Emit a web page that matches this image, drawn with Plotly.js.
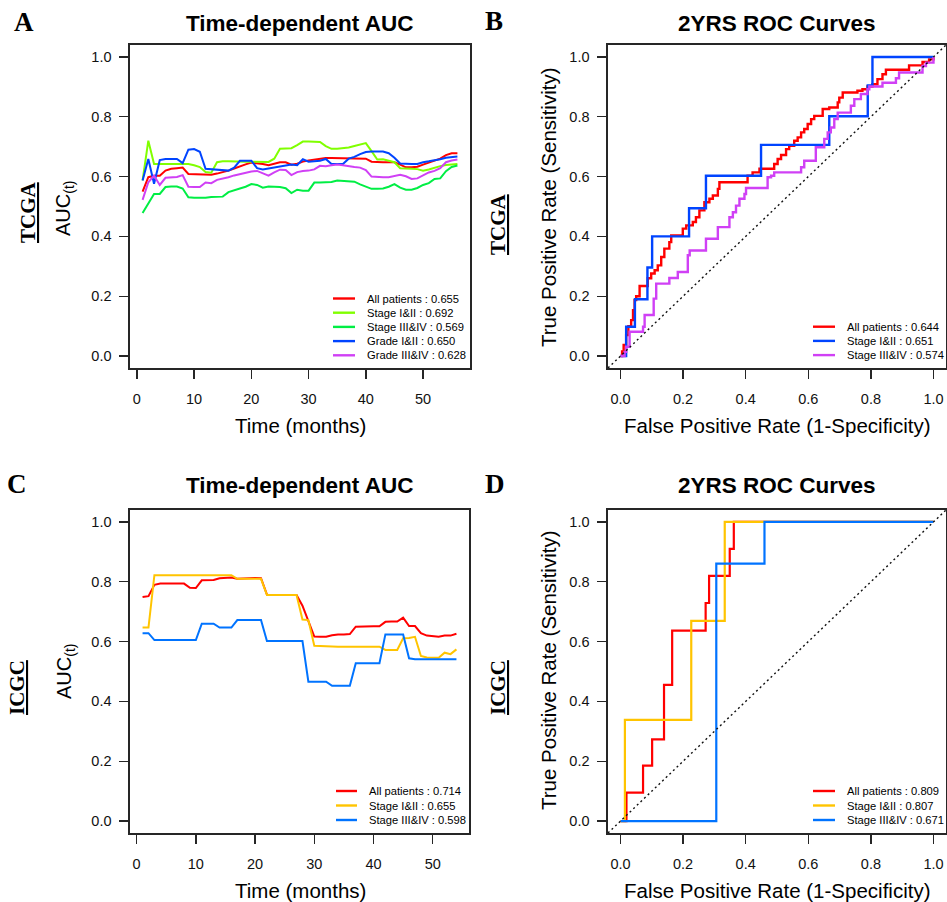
<!DOCTYPE html>
<html>
<head>
<meta charset="utf-8">
<script src="https://cdn.plot.ly/plotly-3.0.1.min.js"></script>
<style>
html,body{margin:0;padding:0;background:#ffffff;}
#chart{width:947px;height:902px;}
</style>
</head>
<body>
<div id="chart"></div>
<script>
// ---------------- DATA ----------------
// Panel A: TCGA time-dependent AUC (months 1..56)
const monthsTCGA = [1,2,3,4,5,6,7,8,9,10,11,12,13,14,15,16,17,18,19,20,21,22,23,24,25,26,27,28,29,30,31,32,33,34,35,36,37,38,39,40,41,42,43,44,45,46,47,48,49,50,51,52,53,54,55,56];
const aucTcgaAll  = [0.550,0.598,0.603,0.603,0.620,0.626,0.628,0.630,0.609,0.608,0.606,0.605,0.606,0.610,0.614,0.620,0.627,0.635,0.641,0.647,0.645,0.642,0.638,0.643,0.648,0.648,0.640,0.643,0.650,0.654,0.657,0.660,0.662,0.662,0.662,0.662,0.662,0.662,0.662,0.660,0.650,0.648,0.648,0.648,0.648,0.640,0.631,0.631,0.633,0.640,0.646,0.652,0.660,0.672,0.678,0.678];
const aucTcgaS12  = [0.587,0.720,0.642,0.642,0.644,0.644,0.644,0.643,0.642,0.638,0.632,0.615,0.613,0.648,0.651,0.651,0.650,0.650,0.650,0.650,0.649,0.648,0.649,0.660,0.693,0.694,0.695,0.705,0.717,0.717,0.717,0.716,0.702,0.693,0.693,0.694,0.697,0.702,0.708,0.712,0.685,0.657,0.658,0.654,0.648,0.628,0.626,0.626,0.625,0.620,0.624,0.630,0.635,0.639,0.641,0.642];
const aucTcgaS34  = [0.478,0.510,0.542,0.542,0.565,0.567,0.567,0.560,0.531,0.529,0.529,0.529,0.532,0.532,0.533,0.548,0.555,0.560,0.566,0.575,0.572,0.563,0.567,0.566,0.565,0.561,0.545,0.556,0.553,0.553,0.580,0.580,0.580,0.582,0.587,0.586,0.585,0.583,0.574,0.566,0.559,0.559,0.560,0.566,0.575,0.563,0.556,0.556,0.562,0.572,0.578,0.592,0.594,0.618,0.632,0.637];
const aucTcgaG12  = [0.587,0.659,0.576,0.655,0.659,0.659,0.659,0.645,0.690,0.692,0.683,0.626,0.624,0.624,0.621,0.620,0.630,0.653,0.653,0.653,0.628,0.624,0.627,0.630,0.634,0.638,0.640,0.638,0.658,0.650,0.652,0.653,0.659,0.642,0.642,0.642,0.660,0.666,0.675,0.682,0.684,0.684,0.684,0.678,0.663,0.644,0.642,0.642,0.642,0.648,0.651,0.654,0.658,0.663,0.665,0.667];
const aucTcgaG34  = [0.522,0.581,0.603,0.572,0.596,0.598,0.599,0.605,0.566,0.565,0.565,0.580,0.578,0.589,0.593,0.598,0.604,0.609,0.612,0.617,0.619,0.612,0.603,0.614,0.623,0.622,0.605,0.615,0.619,0.620,0.624,0.636,0.635,0.638,0.640,0.638,0.634,0.632,0.630,0.622,0.600,0.598,0.598,0.598,0.603,0.606,0.601,0.592,0.594,0.605,0.614,0.619,0.628,0.648,0.654,0.657];
const legendA = ["All patients : 0.655","Stage I&amp;II : 0.692","Stage III&amp;IV : 0.569","Grade I&amp;II : 0.650","Grade III&amp;IV : 0.628"];

// Panel B: TCGA 2-year ROC
const rocTcgaAllFpr = [0,0.005,0.010,0.018,0.025,0.034,0.040,0.045,0.050,0.061,0.087,0.098,0.109,0.119,0.130,0.140,0.156,0.162,0.199,0.210,0.231,0.241,0.252,0.268,0.284,0.295,0.311,0.316,0.406,0.422,0.444,0.491,0.502,0.513,0.529,0.539,0.555,0.566,0.577,0.587,0.598,0.609,0.619,0.646,0.667,0.694,0.699,0.710,0.757,0.773,0.789,0.805,0.821,0.837,0.848,0.922,0.965,0.986,1];
const rocTcgaAllTpr = [0,0.015,0.037,0.070,0.100,0.120,0.153,0.187,0.200,0.234,0.260,0.276,0.287,0.303,0.331,0.359,0.381,0.403,0.426,0.437,0.448,0.464,0.487,0.514,0.526,0.537,0.559,0.581,0.603,0.614,0.626,0.642,0.659,0.672,0.692,0.703,0.720,0.731,0.748,0.759,0.776,0.792,0.803,0.826,0.831,0.848,0.864,0.881,0.887,0.892,0.901,0.909,0.926,0.942,0.957,0.972,0.983,0.992,1];
const rocTcgaS12Fpr = [0,0.018,0.046,0.086,0.101,0.219,0.273,0.449,0.667,0.790,0.805,1];
const rocTcgaS12Tpr = [0,0.098,0.190,0.296,0.400,0.494,0.603,0.706,0.802,0.905,1,1];
const rocTcgaS34Fpr = [0,0.013,0.018,0.029,0.072,0.077,0.106,0.114,0.156,0.183,0.215,0.221,0.273,0.311,0.348,0.359,0.369,0.380,0.396,0.401,0.470,0.481,0.491,0.577,0.587,0.624,0.651,0.662,0.672,0.683,0.694,0.736,0.747,0.768,0.789,0.795,0.837,0.880,0.890,0.965,0.976,1];
const rocTcgaS34Tpr = [0,0.014,0.031,0.081,0.098,0.137,0.192,0.242,0.261,0.281,0.337,0.353,0.392,0.431,0.464,0.481,0.503,0.526,0.542,0.562,0.598,0.603,0.614,0.631,0.653,0.698,0.726,0.748,0.764,0.792,0.814,0.837,0.859,0.876,0.892,0.901,0.914,0.929,0.948,0.970,0.981,1];
const legendB = ["All patients : 0.644","Stage I&amp;II : 0.651","Stage III&amp;IV : 0.574"];

// Panel C: ICGC time-dependent AUC (months 1..54)
const monthsICGC = [1,2,3,4,5,6,7,8,9,10,11,12,13,14,15,16,17,18,19,20,21,22,23,24,25,26,27,28,29,30,31,32,33,34,35,36,37,38,39,40,41,42,43,44,45,46,47,48,49,50,51,52,53,54];
const aucIcgcAll = [0.749,0.752,0.790,0.794,0.794,0.794,0.794,0.794,0.780,0.779,0.805,0.806,0.806,0.812,0.813,0.814,0.810,0.811,0.813,0.813,0.812,0.757,0.756,0.756,0.756,0.756,0.756,0.720,0.669,0.617,0.616,0.616,0.621,0.624,0.624,0.625,0.650,0.651,0.651,0.651,0.651,0.666,0.667,0.667,0.680,0.652,0.652,0.628,0.620,0.618,0.616,0.620,0.620,0.626];
const aucIcgcS12 = [0.647,0.647,0.822,0.822,0.822,0.822,0.822,0.822,0.822,0.822,0.822,0.822,0.822,0.822,0.822,0.822,0.810,0.810,0.810,0.810,0.810,0.756,0.756,0.756,0.756,0.756,0.756,0.674,0.672,0.586,0.586,0.585,0.584,0.583,0.583,0.583,0.583,0.583,0.583,0.583,0.583,0.572,0.572,0.572,0.611,0.612,0.616,0.552,0.547,0.546,0.546,0.563,0.558,0.574];
const aucIcgcS34 = [0.628,0.628,0.605,0.605,0.605,0.605,0.605,0.605,0.605,0.605,0.660,0.660,0.660,0.647,0.647,0.647,0.672,0.672,0.672,0.672,0.672,0.602,0.602,0.602,0.602,0.602,0.602,0.602,0.466,0.466,0.466,0.466,0.452,0.452,0.452,0.452,0.528,0.528,0.528,0.528,0.528,0.624,0.624,0.624,0.624,0.544,0.541,0.541,0.541,0.541,0.541,0.541,0.541,0.541];
const legendC = ["All patients : 0.714","Stage I&amp;II : 0.655","Stage III&amp;IV : 0.598"];

// Panel D: ICGC 2-year ROC
const rocIcgcAllFpr = [0,0.019,0.072,0.101,0.139,0.165,0.272,0.283,0.349,0.362,1];
const rocIcgcAllTpr = [0,0.095,0.185,0.273,0.455,0.637,0.729,0.820,0.910,1,1];
const rocIcgcS12Fpr = [0,0.014,0.226,0.333,1];
const rocIcgcS12Tpr = [0,0.338,0.669,1,1];
const rocIcgcS34Fpr = [0,0.306,0.460,1];
const rocIcgcS34Tpr = [0,0.861,1,1];
const legendD = ["All patients : 0.809","Stage I&amp;II : 0.807","Stage III&amp;IV : 0.671"];

const diagonal = [-0.04, 1.04];

// ---------------- STYLE ----------------
const W = 947, H = 902;
const px = v => v / W;
const py = v => 1 - v / H;
const SANS = 'Liberation Sans, Arial, Helvetica, sans-serif';
const SERIF = 'Liberation Serif, Times New Roman, serif';

const colA = ['#FF0000', '#80FF00', '#00EE44', '#0044FF', '#D040F5'];
const colB = ['#FF0000', '#0044FF', '#D040F5'];
const colC = ['#FF0000', '#FFC400', '#0073FF'];

function line(x, y, color, xa, ya, width, shape) {
  return {x: x, y: y, type: 'scatter', mode: 'lines', xaxis: xa, yaxis: ya,
          line: {color: color, width: width, shape: shape || 'linear'},
          hoverinfo: 'skip', showlegend: false};
}

const traces = [
  line(monthsTCGA, aucTcgaAll, colA[0], 'x', 'y', 2),
  line(monthsTCGA, aucTcgaS12, colA[1], 'x', 'y', 2),
  line(monthsTCGA, aucTcgaS34, colA[2], 'x', 'y', 2),
  line(monthsTCGA, aucTcgaG12, colA[3], 'x', 'y', 2),
  line(monthsTCGA, aucTcgaG34, colA[4], 'x', 'y', 2),

  line(rocTcgaAllFpr, rocTcgaAllTpr, colB[0], 'x2', 'y2', 2.4, 'hv'),
  line(rocTcgaS12Fpr, rocTcgaS12Tpr, colB[1], 'x2', 'y2', 2.4, 'hv'),
  line(rocTcgaS34Fpr, rocTcgaS34Tpr, colB[2], 'x2', 'y2', 2.4, 'hv'),

  line(monthsICGC, aucIcgcAll, colC[0], 'x3', 'y3', 2),
  line(monthsICGC, aucIcgcS12, colC[1], 'x3', 'y3', 2),
  line(monthsICGC, aucIcgcS34, colC[2], 'x3', 'y3', 2),

  line(rocIcgcAllFpr, rocIcgcAllTpr, colC[0], 'x4', 'y4', 2.2, 'hv'),
  line(rocIcgcS12Fpr, rocIcgcS12Tpr, colC[1], 'x4', 'y4', 2.2, 'hv'),
  line(rocIcgcS34Fpr, rocIcgcS34Tpr, colC[2], 'x4', 'y4', 2.2, 'hv')
];
// dotted reference diagonals
['2', '4'].forEach(k => {
  const t = line(diagonal, diagonal, '#111111', 'x' + k, 'y' + k, 1.4);
  t.line.dash = '2px,3px';
  traces.push(t);
});

function axis(extra) {
  return Object.assign({
    showline: true, mirror: true, linecolor: '#262626', linewidth: 1.6,
    ticks: 'outside', ticklen: 9, tickwidth: 1.4, tickcolor: '#262626',
    showgrid: false, zeroline: false, fixedrange: true,
    tickfont: {family: SANS, size: 14.5, color: '#111111'}
  }, extra);
}
const xAx = extra => axis(Object.assign({ticklabelstandoff: 8}, extra));
const yAx = extra => axis(Object.assign({ticklabelstandoff: 5, tick0: 0, dtick: 0.2, tickformat: '.1f', range: [-0.04, 1.04]}, extra));

const yTop = [py(368), py(45)], yBot = [py(833), py(510)];
const xLeftA = [px(130), px(470)], xLeftC = [px(130), px(469)], xRight = [px(608), px(946)];

const annotations = [];
const shapes = [];
function text(t, x, y, size, opts) {
  annotations.push(Object.assign({
    text: t, x: px(x), y: py(y), xref: 'paper', yref: 'paper', showarrow: false,
    xanchor: 'center', yanchor: 'middle', font: {family: SANS, size: size, color: '#000000'}
  }, opts || {}));
}

// panel titles
text('<b>Time-dependent AUC</b>', 300, 23, 22.5);
text('<b>2YRS ROC Curves</b>', 777, 23, 22.5);
text('<b>Time-dependent AUC</b>', 300, 485, 22.5);
text('<b>2YRS ROC Curves</b>', 777, 485, 22.5);
// panel letters
[['A', 24, 22], ['B', 494, 21], ['C', 17, 484], ['D', 495, 484]].forEach(p =>
  text('<b>' + p[0] + '</b>', p[1], p[2], 27, {font: {family: SERIF, size: 27, color: '#000'}}));
// cohort labels
[['TCGA', 28, 212], ['TCGA', 498, 224], ['ICGC', 17, 688], ['ICGC', 498, 688]].forEach(p =>
  text('<b><u>' + p[0] + '</u></b>', p[1], p[2], 21, {textangle: -90, font: {family: SERIF, size: 21, color: '#000'}}));
// axis titles
text('AUC<sub>(t)</sub>', 65, 209, 20, {textangle: -90});
text('AUC<sub>(t)</sub>', 65, 672, 20, {textangle: -90});
text('True Positive Rate (Sensitivity)', 548, 207, 20.5, {textangle: -90});
text('True Positive Rate (Sensitivity)', 548, 670, 20.5, {textangle: -90});
text('Time (months)', 300, 425, 20.5);
text('Time (months)', 300, 890, 20.5);
text('False Positive Rate (1-Specificity)', 777, 425, 20.5);
text('False Positive Rate (1-Specificity)', 777, 890, 20.5);

// legends
function legend(labels, colors, x0, x1, xt, rows) {
  labels.forEach((lab, i) => {
    shapes.push({type: 'line', xref: 'paper', yref: 'paper', x0: px(x0), x1: px(x1),
                 y0: py(rows[i]), y1: py(rows[i]), line: {color: colors[i], width: 2.4}});
    text(lab, xt, rows[i], 11.2, {xanchor: 'left'});
  });
}
legend(legendA, colA, 333, 355, 365, [298.5, 312.7, 326.9, 341.1, 355.3]);
legend(legendB, colB, 813, 835, 845, [326.7, 340.9, 355.1]);
legend(legendC, colC, 336, 357, 367, [791, 805.5, 820]);
legend(legendD, colC, 813, 835, 845, [791, 805.5, 820]);

const layout = {
  width: W, height: H, margin: {l: 0, r: 0, t: 0, b: 0},
  paper_bgcolor: '#ffffff', plot_bgcolor: '#ffffff', showlegend: false,
  xaxis:  xAx({domain: xLeftA, range: [-1.2, 58.2], tick0: 0, dtick: 10, anchor: 'y'}),
  yaxis:  yAx({domain: yTop, anchor: 'x'}),
  xaxis2: xAx({domain: xRight, range: [-0.04, 1.04], tick0: 0, dtick: 0.2, tickformat: '.1f', anchor: 'y2'}),
  yaxis2: yAx({domain: yTop, anchor: 'x2'}),
  xaxis3: xAx({domain: xLeftC, range: [-1.12, 56.12], tick0: 0, dtick: 10, anchor: 'y3'}),
  yaxis3: yAx({domain: yBot, anchor: 'x3'}),
  xaxis4: xAx({domain: xRight, range: [-0.04, 1.04], tick0: 0, dtick: 0.2, tickformat: '.1f', anchor: 'y4'}),
  yaxis4: yAx({domain: yBot, anchor: 'x4'}),
  annotations: annotations,
  shapes: shapes
};

Plotly.newPlot('chart', traces, layout, {staticPlot: true, displayModeBar: false});
</script>
</body>
</html>
